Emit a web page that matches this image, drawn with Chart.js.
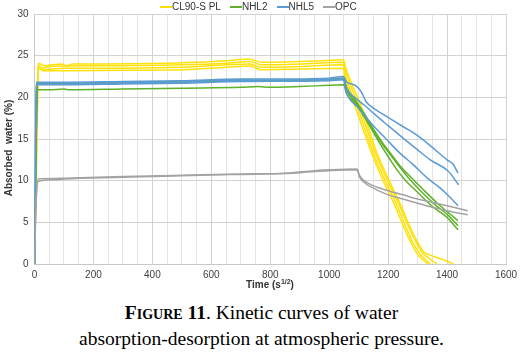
<!DOCTYPE html>
<html><head><meta charset="utf-8">
<script src="https://cdn.jsdelivr.net/npm/chart.js@4/dist/chart.umd.min.js"></script>
<style>
html,body{margin:0;padding:0;background:#fff;}
#wrap{position:relative;width:523px;height:355px;overflow:hidden;background:#fff;}
#chartBox{position:absolute;left:0;top:0;width:523px;height:295px;}
#legend{position:absolute;top:1px;left:160px;font:10px "Liberation Sans",Arial,sans-serif;color:#333;white-space:nowrap;line-height:12px;}
.li{display:inline-block;margin-right:9px;}
.sw{display:inline-block;width:12px;height:2px;vertical-align:middle;margin-bottom:1px;}
#ytitle{position:absolute;left:-91px;top:142px;width:200px;text-align:center;transform:rotate(-90deg);font:bold 10px "Liberation Sans",Arial,sans-serif;color:#333;line-height:12px;}
#xtitle{position:absolute;left:220px;top:279px;width:100px;text-align:center;font:bold 10px "Liberation Sans",Arial,sans-serif;color:#333;line-height:12px;}
#xtitle sup{font-size:7px;vertical-align:4px;line-height:0;}
#caption{position:absolute;top:300px;left:0;width:523px;text-align:center;font-family:"Liberation Serif","Times New Roman",serif;font-size:19.5px;line-height:26px;color:#000;}
#caption b{font-variant:small-caps;}
</style>
</head><body>
<div id="wrap">
  <div id="chartBox"><canvas id="c" width="523" height="295"></canvas></div>
  <div id="legend"></div>
  <div id="ytitle">Absorbed&nbsp; water (%)</div>
  <div id="xtitle">Time (s<sup>1/2</sup>)</div>
  <div id="caption"><b>Figure 11</b>. Kinetic curves of water<br>absorption-desorption at atmospheric pressure.</div>
</div>
<script>
// ---- data (x = time s^1/2, y = absorbed water %) ----
const seriesNames = ["CL90-S PL", "NHL2", "NHL5", "OPC"];
const seriesColors = ["#FFE10A", "#5FB12A", "#5B9BD5", "#A3A3A3"];

const cl90A = [[0,0],[7,15],[12,24.1],[20,24.0],[35,23.8],[60,23.9],[90,24.0],[110,23.8],[130,24.0],[250,24.0],[400,24.05],[550,24.2],[650,24.4],[730,24.6],[770,24.2],[850,24.25],[950,24.35],[1048,24.5],[1058,23.3],[1110,18.8],[1160,13.5],[1210,9.5],[1240,7.3],[1270,4.8],[1300,2.6],[1322,1.4],[1340,1.1],[1380,0.6],[1422,0]];
const cl90B = [[0,0],[8,15],[13,23.9],[25,23.5],[50,23.7],[100,23.75],[300,23.8],[500,23.9],[650,24.1],[730,24.3],[770,23.9],[900,24.0],[1048,24.2],[1058,22.9],[1105,18.6],[1155,13.5],[1205,9.5],[1235,7.3],[1265,4.8],[1295,2.6],[1318,1.3],[1335,0.8],[1366,0]];
const cl90C = [[0,0],[8,15],[13,23.7],[25,23.3],[100,23.5],[300,23.5],[500,23.6],[650,23.9],[730,24.0],[770,23.6],[900,23.7],[1048,23.9],[1056,22.5],[1100,18.4],[1150,13.3],[1198,9.4],[1228,7.2],[1256,4.8],[1285,2.5],[1308,1.2],[1325,0.6],[1343,0]];
const cl90D = [[0,0],[8,15],[13,23.5],[30,23.2],[100,23.2],[300,23.25],[500,23.3],[650,23.6],[730,23.75],[770,23.3],[900,23.4],[1048,23.5],[1055,22.2],[1095,18.2],[1145,13.2],[1192,9.3],[1222,7.1],[1250,4.7],[1280,2.4],[1303,1.0],[1335,0]];

const nhl2A = [[0,0],[6,15],[10,20.9],[50,20.9],[100,21.0],[120,20.9],[300,21.0],[500,21.1],[700,21.2],[760,21.3],[800,21.2],[900,21.3],[1000,21.45],[1050,21.5],[1058,20.5],[1090,19.2],[1120,17.6],[1150,15.8],[1175,14.3],[1200,12.9],[1230,11.3],[1260,10.0],[1300,8.6],[1350,6.9],[1400,5.6],[1437,4.1]];
const nhl2B = [[0,0],[6,16],[10,21.6],[100,21.65],[300,21.75],[500,21.85],[700,22.0],[800,21.95],[1000,22.1],[1050,22.2],[1058,21.2],[1090,19.6],[1120,18.0],[1150,16.2],[1180,14.6],[1210,13.2],[1240,11.8],[1275,10.5],[1320,8.9],[1370,7.2],[1410,6.0],[1437,5.2]];
const nhl2C = [[0,0],[6,16],[10,21.7],[100,21.7],[300,21.8],[500,21.9],[700,22.1],[800,22.0],[1000,22.2],[1050,22.3],[1058,21.0],[1090,19.4],[1120,17.8],[1150,16.0],[1180,14.4],[1210,13.0],[1240,11.6],[1270,10.3],[1310,8.8],[1360,7.1],[1405,5.8],[1437,4.6]];

const nhl5A = [[0,0],[3,12],[6,21.8],[100,21.8],[300,21.9],[500,22.0],[700,22.2],[800,22.2],[1000,22.3],[1048,22.5],[1058,21.9],[1090,21.4],[1110,20.6],[1125,19.5],[1150,18.7],[1200,17.6],[1250,16.5],[1300,15.4],[1350,14.0],[1400,12.5],[1420,12.0],[1437,10.9]];
const nhl5B = [[0,0],[3,12],[6,21.6],[100,21.6],[300,21.75],[500,21.85],[700,22.05],[1000,22.15],[1048,22.3],[1058,21.2],[1100,19.6],[1125,18.9],[1150,18.1],[1200,16.6],[1258,14.9],[1300,13.7],[1343,12.5],[1405,11.1],[1439,9.5]];
const nhl5C = [[0,0],[3,12],[6,21.5],[100,21.5],[300,21.6],[500,21.7],[700,21.9],[1000,22.0],[1048,22.1],[1058,20.6],[1100,18.7],[1150,16.6],[1196,14.9],[1240,13.3],[1286,11.9],[1330,10.4],[1377,9.1],[1410,8.0],[1437,7.0]];

const opcA = [[0,0],[4,6],[12,10.2],[60,10.25],[100,10.3],[300,10.5],[500,10.65],[700,10.8],[850,10.9],[950,11.2],[1000,11.3],[1095,11.4],[1102,10.7],[1115,10.1],[1150,9.4],[1200,8.8],[1250,8.3],[1300,7.8],[1350,7.4],[1400,7.0],[1470,6.4]];
const opcB = [[0,0],[4,6],[12,9.9],[60,10.1],[100,10.2],[300,10.4],[500,10.6],[700,10.75],[850,10.85],[950,11.1],[1000,11.2],[1095,11.3],[1102,10.5],[1115,9.9],[1150,9.1],[1200,8.3],[1250,7.8],[1300,7.3],[1350,6.8],[1400,6.4],[1470,5.9]];

const groups = [[cl90A, cl90B, cl90C, cl90D], [nhl2A, nhl2B, nhl2C], [nhl5A, nhl5B, nhl5C], [opcA, opcB]];

// ---- legend (HTML) ----
const leg = document.getElementById('legend');
seriesNames.forEach((n, i) => {
  const s = document.createElement('span'); s.className = 'li';
  s.innerHTML = '<span class="sw" style="background:' + seriesColors[i] + '"></span>' + n;
  leg.appendChild(s);
});

// ---- datasets ----
const datasets = [];
let k = 0;
groups.forEach((g, gi) => {
  g.forEach(arr => {
    datasets.push({
      label: seriesNames[gi],
      data: arr.map(p => ({x: p[0], y: p[1]})),
      borderColor: seriesColors[gi],
      backgroundColor: seriesColors[gi],
      borderWidth: 1.5,
      pointRadius: 0,
      tension: 0.25,
      cubicInterpolationMode: 'monotone',
      fill: false,
      order: 100 - k
    });
    k++;
  });
});

const tickFont = {family: '"Liberation Sans", Arial, sans-serif', size: 10};
new Chart(document.getElementById('c'), {
  type: 'line',
  data: {datasets},
  options: {
    responsive: false,
    animation: false,
    layout: {padding: {left: 0, right: 17, top: 14, bottom: 15}},
    plugins: {legend: {display: false}, tooltip: {enabled: false}},
    scales: {
      x: {
        type: 'linear', min: 0, max: 1600,
        afterFit: s => { s.height = 16; },
        ticks: {stepSize: 50, autoSkip: false, maxRotation: 0, padding: 5, color: '#404040', font: tickFont,
          callback: v => (v % 200 === 0 ? String(v) : '')},
        grid: {drawTicks: false, color: c => (c.tick && c.tick.value % 200 === 0 ? '#d2d2d2' : '#e4e4e4'), lineWidth: 1},
        border: {color: '#c8c8c8'}
      },
      y: {
        min: 0, max: 30,
        afterFit: s => { s.width = 34.5; },
        ticks: {stepSize: 5, padding: 6, color: '#404040', font: tickFont},
        grid: {drawTicks: false, color: '#d2d2d2'},
        border: {color: '#c8c8c8'}
      }
    }
  }
});
</script>
</body></html>
